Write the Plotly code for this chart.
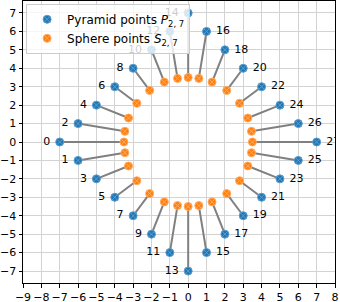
import plotly.graph_objects as go

# Pyramid points P_{2,7}
px = [-7, -6, -6, -5, -5, -4, -4, -3, -3, -2, -2, -1, -1, 0, 0, 1, 1, 2, 2, 3, 3, 4, 4, 5, 5, 6, 6, 7]
py = [0, -1, 1, -2, 2, -3, 3, -4, 4, -5, 5, -6, 6, -7, 7, -6, 6, -5, 5, -4, 4, -3, 3, -2, 2, -1, 1, 0]
# Sphere points S_{2,7}
sx = [-3.5, -3.45, -3.45, -3.25, -3.25, -2.80, -2.80, -2.10, -2.10, -1.30, -1.30, -0.58, -0.58, 0.0, 0.0,
      0.58, 0.58, 1.30, 1.30, 2.10, 2.10, 2.80, 2.80, 3.25, 3.25, 3.45, 3.45, 3.5]
sy = [0.0, -0.58, 0.58, -1.30, 1.30, -2.10, 2.10, -2.80, 2.80, -3.25, 3.25, -3.45, 3.45, -3.5, 3.5,
      -3.45, 3.45, -3.25, 3.25, -2.80, 2.80, -2.10, 2.10, -1.30, 1.30, -0.58, 0.58, 0.0]
labels = [str(i) for i in range(len(px))]
xticks = list(range(-9, 9))
yticks = list(range(-7, 8))

BLUE = "#1f77b4"
ORANGE = "#ff7f0e"
FONT = "DejaVu Sans"

lx, ly = [], []
for a, b, c, d in zip(px, py, sx, sy):
    lx += [a, c, None]
    ly += [b, d, None]

fig = go.Figure()
fig.add_trace(go.Scatter(x=lx, y=ly, mode="lines", line=dict(color="#808080", width=2),
                         showlegend=False, hoverinfo="skip"))
fig.add_trace(go.Scatter(x=px, y=py, mode="markers+text", name="Pyramid points <i>P</i><sub>2, 7</sub>",
                         marker=dict(color=BLUE, size=8, symbol="circle-x",
                                     line=dict(color="#5d9ccc", width=1)),
                         text=[" " + t + " " for t in labels],
                         textposition=["middle left" if x <= 0 else "middle right" for x in px],
                         textfont=dict(family=FONT, size=11, color="black")))
fig.add_trace(go.Scatter(x=sx, y=sy, mode="markers", name="Sphere points <i>S</i><sub>2, 7</sub>",
                         marker=dict(color=ORANGE, size=8, symbol="circle-x",
                                     line=dict(color="#ffab60", width=1))))

axis_common = dict(showgrid=True, gridcolor="#d3d3d3", gridwidth=1, zeroline=False,
                   showline=True, linecolor="black", linewidth=1, mirror=True,
                   ticks="outside", ticklen=3.5, tickcolor="black", tickangle=0,
                   automargin=False,
                   tickfont=dict(family=FONT, size=11, color="black"))
fig.update_layout(
    width=340, height=302,
    margin=dict(l=23, r=5, t=1, b=19),
    plot_bgcolor="white", paper_bgcolor="white",
    font=dict(family=FONT, size=11, color="black"),
    xaxis=dict(range=[-9, 8], tickvals=xticks, ticktext=[str(v).replace("-", "\u2212") for v in xticks], **axis_common),
    yaxis=dict(range=[-7.65, 7.65], tickvals=yticks, ticktext=[str(v).replace("-", "\u2212") for v in yticks], **axis_common),
    legend=dict(x=0.01, y=0.99, xanchor="left", yanchor="top",
                bgcolor="rgba(255,255,255,0.8)", bordercolor="#cccccc", borderwidth=1,
                font=dict(family=FONT, size=12), itemwidth=30, tracegroupgap=0),
    showlegend=True,
)
fig.write_html("out.html", config={"displayModeBar": False},
               post_script="document.body.style.margin='0';document.body.style.overflow='hidden';")
